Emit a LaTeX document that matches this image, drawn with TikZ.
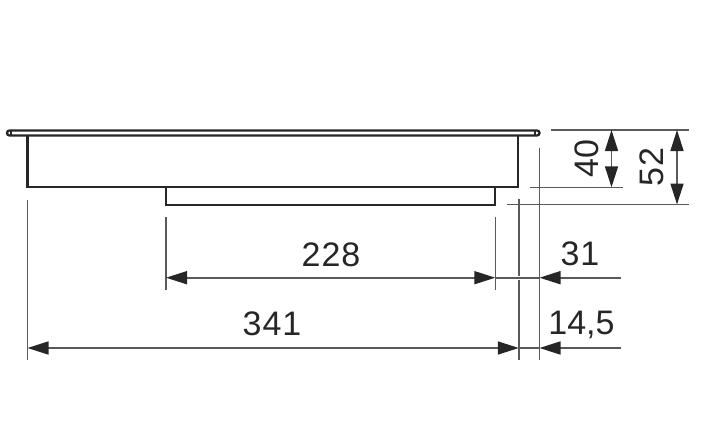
\documentclass[tikz,border=0pt]{standalone}
\usepackage{fontspec}
\setmainfont{Liberation Sans}[LetterSpace=3]
\newfontfamily\tightfont{Liberation Sans}
\usetikzlibrary{arrows.meta}
\definecolor{ink}{HTML}{262626}
\definecolor{dimgray}{HTML}{5A5A5A}
\tikzset{
  body/.style={draw=ink,line width=2.3pt,line join=miter},
  ext/.style={draw=dimgray,line width=1.6pt},
  dimline/.style={draw=dimgray,line width=1.6pt},
  tip/.tip={Triangle[length=21pt,width=13pt,color=ink]},
  arrowboth/.style={dimline,{tip}-{tip}},
  arrowend/.style={dimline,-{tip}},
  lab/.style={font=\fontsize{34}{34}\selectfont,text=ink,inner sep=0pt,anchor=center},
}
\begin{document}
\begin{tikzpicture}[x=1pt,y=-1pt]
\useasboundingbox (0,0) rectangle (712,444);
% plate and bodies
\coordinate (plateL) at (7,130.5);
\coordinate (plateR) at (539.5,135.5);
\draw[body,rounded corners=2.5pt] (plateL) rectangle (plateR);
\coordinate (capLt) at (11,130.5); \coordinate (capLb) at (11,135.5);
\coordinate (capRt) at (535,130.5); \coordinate (capRb) at (535,135.5);
\draw[body,line width=1.4pt] (capLt) -- (capLb);
\draw[body,line width=1.4pt] (capRt) -- (capRb);
\coordinate (trayTL) at (27.5,135.5);
\coordinate (trayBL) at (27.5,187.3);
\coordinate (trayBR) at (518.3,187.3);
\coordinate (trayTR) at (518.3,135.5);
\draw[body] (trayTL) -- (trayBL) -- (trayBR) -- (trayTR);
\coordinate (lowTL) at (166,187.3);
\coordinate (lowBL) at (166,205);
\coordinate (lowBR) at (495,205);
\coordinate (lowTR) at (495,187.3);
\draw[body] (lowTL) -- (lowBL) -- (lowBR) -- (lowTR);
% vertical extension lines
\coordinate (a1) at (27.5,200); \coordinate (a2) at (27.5,360);
\coordinate (b1) at (166,217); \coordinate (b2) at (166,290);
\coordinate (c1) at (495.3,217); \coordinate (c2) at (495.3,290);
\coordinate (d1) at (518.8,199); \coordinate (d2) at (518.8,275.5);
\coordinate (d3) at (518.8,280); \coordinate (d4) at (518.8,360);
\coordinate (e1) at (539.5,148); \coordinate (e2) at (539.5,360);
\draw[ext] (a1) -- (a2);
\draw[ext] (b1) -- (b2);
\draw[ext] (c1) -- (c2);
\draw[ext] (d1) -- (d2);
\draw[ext] (d3) -- (d4);
\draw[ext] (e1) -- (e2);
% horizontal extension lines
\coordinate (f1) at (551,130); \coordinate (f2) at (689,130);
\coordinate (g1) at (530,187.3); \coordinate (g2) at (623,187.3);
\coordinate (h1) at (507,204.5); \coordinate (h2) at (689,204.5);
\draw[ext] (f1) -- (f2);
\draw[ext] (g1) -- (g2);
\draw[ext] (h1) -- (h2);
% vertical dimensions
\coordinate (p40t) at (611.5,130); \coordinate (p40b) at (611.5,187.3);
\coordinate (p52t) at (677,130); \coordinate (p52b) at (677,204.5);
\draw[arrowboth] (p40t) -- (p40b);
\draw[arrowboth] (p52t) -- (p52b);
% horizontal dimensions
\coordinate (p228l) at (166,277.7); \coordinate (p228r) at (495.3,277.7);
\coordinate (p31s) at (621,277.7); \coordinate (p31e) at (539.5,277.7);
\coordinate (p341l) at (27.5,348); \coordinate (p341r) at (518.8,348);
\coordinate (p145s) at (621,348); \coordinate (p145e) at (539.5,348);
\draw[arrowboth] (p228l) -- (p228r);
\draw[dimline] (p228r) -- (p31e);
\draw[arrowend] (p31s) -- (p31e);
\draw[arrowboth] (p341l) -- (p341r);
\draw[dimline] (p341r) -- (p145e);
\draw[arrowend] (p145s) -- (p145e);
% labels
\node[lab] (t228) at (331,255) {228};
\node[lab] (t341) at (272,324) {341};
\node[lab] (t31) at (580,254) {31};
\node[lab] (t145) at (581.5,325) {\tightfont 14,5};
\node[lab,rotate=90] (t40) at (587,158.5) {40};
\node[lab,rotate=90] (t52) at (652,167) {52};
\end{tikzpicture}
\end{document}
